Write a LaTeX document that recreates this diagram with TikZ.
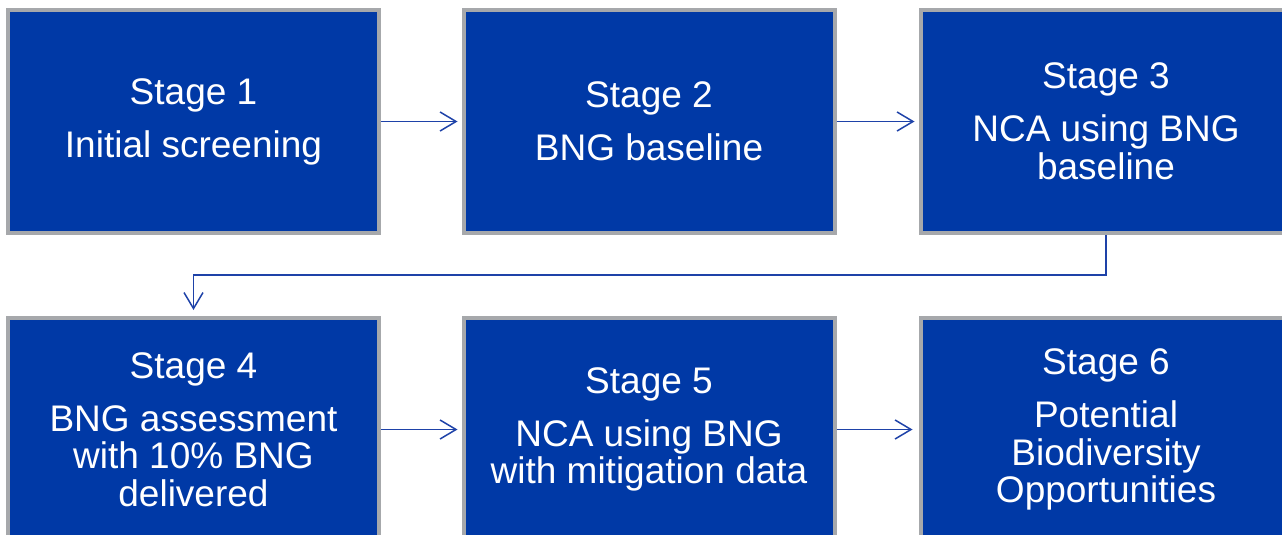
\documentclass[tikz,border=0pt]{standalone}
\usepackage{fontspec}
\setmainfont{Liberation Sans}
\usetikzlibrary{arrows.meta}
\definecolor{boxblue}{RGB}{0,57,166}
\definecolor{boxgray}{RGB}{166,168,171}
\definecolor{arrowblue}{RGB}{30,66,168}
\tikzset{
  stagebox/.style={draw=boxgray, line width=4pt, fill=boxblue, minimum width=371pt,
    minimum height=223pt, inner sep=0pt, outer sep=0pt, text=white,
    font=\fontsize{37}{37.5}\selectfont, align=center},
  flow/.style={draw=arrowblue, line width=1.5pt, -{Straight Barb[length=16pt,width=19pt,line width=1.5pt]}}
}
\begin{document}
\begin{tikzpicture}[x=1pt,y=-1pt]
\useasboundingbox (0,0) rectangle (1282,535);
\clip (0,0) rectangle (1282,535);
\node[stagebox] (b1) at (193.5,121.5) {Stage 1\\[15.5pt]Initial screening};
\node[stagebox] (b2) at (649,121.5) {Stage 2\\[15.5pt]BNG baseline};
\node[stagebox] (b3) at (1106,121.5) {Stage 3\\[15.5pt]NCA using BNG\\baseline};
\node[stagebox] (b4) at (193.5,429.5) {Stage 4\\[15.5pt]BNG assessment\\with 10\% BNG\\delivered};
\node[stagebox] (b5) at (649,429.5) {Stage 5\\[15.5pt]NCA using BNG\\with mitigation data};
\node[stagebox] (b6) at (1106,429.5) {Stage 6\\[15.5pt]Potential\\Biodiversity\\Opportunities};
\draw[flow, shorten <=2pt, shorten >=6pt] (b1.east) -- (b2.west);
\draw[flow, shorten <=2pt, shorten >=6pt] (b2.east) -- (b3.west);
\draw[flow, shorten <=2pt, shorten >=6pt] (b4.east) -- (b5.west);
\draw[flow, shorten <=2pt, shorten >=8pt] (b5.east) -- (b6.west);
\coordinate (turn) at ([yshift=-42pt]b3.south);
\draw[flow, shorten <=2pt, shorten >=8pt] (b3.south) -- (turn) -| (b4.north);
\end{tikzpicture}
\end{document}
